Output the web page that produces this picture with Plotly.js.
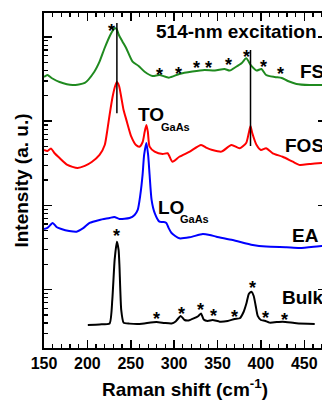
<!DOCTYPE html>
<html>
<head>
<meta charset="utf-8">
<script src="https://cdn.plot.ly/plotly-3.0.1.min.js"></script>
<style>
html,body{margin:0;padding:0;overflow:hidden;background:#fff;}
#chart{width:340px;height:407px;}
</style>
</head>
<body>
<div id="chart"></div>
<script>
// Raman shift (cm-1) and intensity (a.u., log scale)
const fsShift = [150,154,158.7,168,183,197,208,214,219.8,226.4,231.3,233.5,236.3,240.5,244.8,252.1,259,266,275.2,283,294,306,321,335,347,358,364,371,378,383,389,395,400.6,406,416,424,431,441,456,475];
const fsInt   = [3350,3540,3260,2920,2690,2850,3870,5090,7350,10560,12690,12500,10560,8800,7350,5090,4530,3870,3440,3540,3290,3640,3890,4060,4000,4170,4000,4400,4910,5580,4530,4000,4170,3540,3350,3260,3000,2770,2690,2690];

const fosShift = [150,154,158,162,168,177,188.7,197,205,214,220,223,225.6,229,232,234,236.5,239,241.7,245,250.6,256,260,263.7,266,268,269.7,271.7,277.5,286.7,292.5,298,306,318,331,337.5,344,354.5,366,375.6,383,386,388,390,395,400,406,413.6,425,436.7,445,456,470,475];
const fosInt   = [455,443,474,419,365,302,278,294,327,397,521,785,1190,1940,2620,2920,2620,1940,1360,1030,655,521,498,566,745,902,745,498,435,407,416,330,378,435,521,481,455,435,521,476,551,724,877,724,521,455,476,416,378,330,302,310,319,319];

const eaShift = [150,154,160,164.4,170,179,187.5,195.6,202.5,214,225.6,231,237,248.6,254.4,258,261,263.6,265.4,268,270,271.7,274,277.5,283,288,291,293.6,297,306,318,333,341,348.7,367.5,390.6,406,429.5,445,470,475];
const eaInt   = [52.5,54,61.8,55.4,52.5,49.7,48.7,54,61.8,67.1,70.8,72.8,68.9,70.8,76.9,88.2,133,230,397,551,397,230,116,81.3,64,63.5,61.8,54,47,40.6,41.8,45.7,44.5,42.5,38.8,33.9,32.4,31.8,31.2,33,33];

const bulkShift = [200.5,214,225.6,228.7,231.4,234,236,237,239,241.7,248.6,260,279.5,289,297,301.7,307.5,312,316.7,322.5,328,331,334,338.6,344.4,352.5,361.7,369.8,375.6,380,383.4,386,389,391.7,394,396.3,400,404.4,410,425,441,462];
const bulkInt   = [3.80,3.86,3.96,7.53,22.5,37.1,29.5,18.7,5.73,4.05,3.94,3.90,4.12,4.01,3.96,4.18,4.86,4.35,4.30,4.54,4.86,5.20,4.42,4.24,4.35,4.16,4.24,4.48,4.56,5.42,6.93,8.87,9.44,8.39,6.38,4.86,4.35,4.27,4.05,4.16,3.98,3.90];

// reference markers (vertical lines)
const markShift = [234, 388];
const markTop   = [14650, 7010];
const markBot   = [1240, 507];

// labels
const seriesNames = ["FS", "FOS", "EA", "Bulk"];
const fsStars   = [228.2,283.3,305.5,326.3,340.1,363.2,383.3,402.5,422.5];
const fsStarY   = [4.070,3.550,3.565,3.637,3.628,3.668,3.763,3.649,3.557];
const bulkStars = [234,280.2,308.3,330.6,345.9,369.8,390.2,405.6,427.5];
const bulkStarY = [1.637,0.647,0.707,0.758,0.686,0.675,1.024,0.668,0.635];

const FONT = '"Liberation Sans", Arial, sans-serif';

const traces = [
  {x: fsShift, y: fsInt, mode:'lines', line:{color:'#1f8a1f', width:2, shape:'spline', smoothing:0.6}, name: seriesNames[0]},
  {x: fosShift, y: fosInt, mode:'lines', line:{color:'#ff0000', width:2, shape:'spline', smoothing:0.6}, name: seriesNames[1]},
  {x: eaShift, y: eaInt, mode:'lines', line:{color:'#0000ff', width:2, shape:'spline', smoothing:0.6}, name: seriesNames[2]},
  {x: bulkShift, y: bulkInt, mode:'lines', line:{color:'#000000', width:2, shape:'spline', smoothing:0.5}, name: seriesNames[3]}
];
markShift.forEach((s, i) => {
  traces.push({x:[s, s], y:[markTop[i], markBot[i]], mode:'lines', line:{color:'#000', width:1.5}, hoverinfo:'skip'});
});

const ann = [];
function txt(x, y, t, size, anchor) {
  ann.push({x:x, y:y, xref:'x', yref:'y', text:t, showarrow:false, xanchor:anchor||'left', yanchor:'middle',
    font:{family:FONT, size:size, color:'#000', weight:'bold'}});
}
fsStars.forEach((s,i)=>txt(s, fsStarY[i], '*', 18, 'center'));
bulkStars.forEach((s,i)=>txt(s, bulkStarY[i], '*', 18, 'center'));
txt(276.4, 4.065, '514-nm excitation', 19);
txt(442.5, 3.596, seriesNames[0], 19);
txt(425.2, 2.711, seriesNames[1], 19);
txt(433.3, 1.648, seriesNames[2], 19);
txt(421.7, 0.900, seriesNames[3], 19);
txt(256.4, 3.074, 'TO', 19);
txt(282.1, 2.935, 'GaAs', 11);
txt(279.5, 1.975, 'LO', 19);
txt(304, 1.838, 'GaAs', 11);

const minorY = [];
for (let d = 0; d < 5; d++) for (let k = 2; k <= 9; k++) minorY.push(k * Math.pow(10, d));

const layout = {
  width: 340, height: 407,
  margin: {l:44, r:14, t:13, b:59},
  paper_bgcolor:'#fff', plot_bgcolor:'#fff',
  showlegend:false,
  font:{family:FONT, color:'#000'},
  xaxis:{
    range:[150,475], showgrid:false, zeroline:false,
    showline:true, linewidth:2, linecolor:'#000', mirror:'allticks',
    ticks:'inside', ticklen:8, tickwidth:1.5, tickcolor:'#000', dtick:50, tick0:150,
    minor:{ticks:'inside', ticklen:4, tickwidth:1.2, tickcolor:'#000', dtick:10},
    tickfont:{family:FONT, size:16, weight:'bold'},
    title:{text:'Raman shift (cm<sup>-1</sup>)', font:{family:FONT, size:19, weight:'bold'}, standoff:11}
  },
  yaxis:{
    type:'log', range:[0.306, 4.285], showgrid:false, zeroline:false,
    showline:true, linewidth:2, linecolor:'#000', mirror:'allticks',
    ticks:'inside', ticklen:8, tickwidth:1.5, tickcolor:'#000',
    tickvals:[10,100,1000,10000], showticklabels:false,
    minor:{ticks:'inside', ticklen:4, tickwidth:1.2, tickcolor:'#000', tickvals:minorY},
    title:{text:'Intensity (a. u.)', font:{family:FONT, size:19, weight:'bold'}, standoff:8}
  },
  annotations: ann
};

Plotly.newPlot('chart', traces, layout, {staticPlot:true, displayModeBar:false});
</script>
</body>
</html>
